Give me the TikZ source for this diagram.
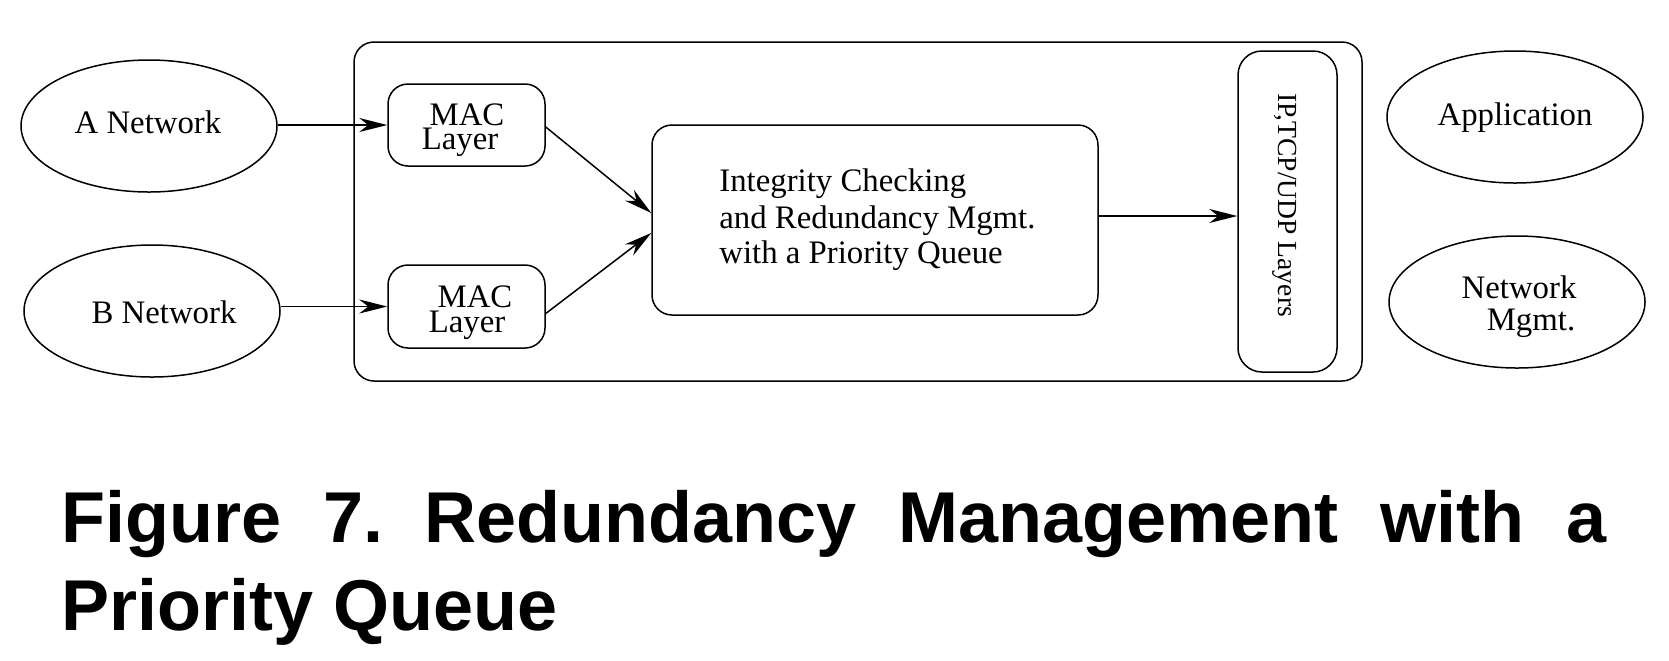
\documentclass[tikz,border=0pt]{standalone}
\usepackage{fontspec}
\setmainfont{Liberation Serif}
\newfontfamily\capfont{Liberation Sans}
\usetikzlibrary{shapes.geometric,arrows.meta}
\frenchspacing
\begin{document}
\begin{tikzpicture}[x=0.5pt,y=-0.5pt,
  box/.style={draw,line width=0.75pt,rounded corners=10pt,inner sep=0pt},
  ell/.style={draw,ellipse,line width=0.75pt,minimum width=128pt,minimum height=66pt,inner sep=0pt},
  lbl/.style={inner sep=0pt,anchor=base,font=\fontsize{16.4}{18}\selectfont},
  captext/.style={inner sep=0pt,anchor=base west,font=\capfont\bfseries\fontsize{36}{44}\selectfont},
  arr/.style={-{Stealth[length=14pt,width=7pt,inset=4.5pt]},line width=0.75pt}]
\useasboundingbox (0,0) rectangle (1669,660);
% boxes
\node[box,minimum width=504pt,minimum height=169.5pt] (outer) at (858,211.5) {};
\node[box,minimum width=78.5pt,minimum height=41pt] (maca) at (466.5,125) {};
\node[box,minimum width=78.5pt,minimum height=41.5pt] (macb) at (466.5,306.5) {};
\node[box,minimum width=223pt,minimum height=95pt] (ctr) at (875,220) {};
\node[box,minimum width=49.5pt,minimum height=160.5pt,rounded corners=12pt] (ip) at (1287.5,211.5) {};
% ellipses
\node[ell] (aell) at (149,126) {};
\node[ell] (bell) at (152,311) {};
\node[ell] (app) at (1515,117) {};
\node[ell] (nm) at (1517,302) {};
% texts
\node[lbl] (ta) at (148,133) {A Network};
\node[lbl] (tb) at (164,323) {B Network};
\node[lbl] (tapp) at (1515,125) {Application};
\node[lbl] (tnm1) at (1519,298) {Network};
\node[lbl] (tnm2) at (1531,330) {Mgmt.};
\node[lbl] (tma1) at (467,125) {MAC};
\node[lbl] (tma2) at (460,149) {Layer};
\node[lbl] (tmb1) at (475,307) {MAC};
\node[lbl] (tmb2) at (467,332) {Layer};
\node[lbl,anchor=base west] (tc1) at (719,191) {Integrity Checking};
\node[lbl,anchor=base west] (tc2) at (719,228) {and Redundancy Mgmt.};
\node[lbl,anchor=base west] (tc3) at (719,263) {with a Priority Queue};
\node[inner sep=0pt,rotate=-90,font=\fontsize{13.8}{15}\selectfont] (tip) at (1285,205) {IP,TCP/UDP Layers};
% caption
\node[captext] (cap1) at (61,542) {\makebox[772.5pt][s]{Figure 7. Redundancy Management with a}};
\node[captext] (cap2) at (61,630) {Priority Queue};
% connectors
\draw[arr] (aell.east |- maca.west) -- (maca.west);
\draw[arr] (bell.east |- macb.west) -- (macb.west);
\draw[arr] ([yshift=-1pt]maca.east) -- ([yshift=3.5pt]ctr.west);
\draw[arr] ([yshift=-3.5pt]macb.east) -- ([yshift=-6.5pt]ctr.west);
\draw[arr] ([yshift=2pt]ctr.east) -- ([yshift=2pt]ctr.east -| ip.west);
\end{tikzpicture}
\end{document}
